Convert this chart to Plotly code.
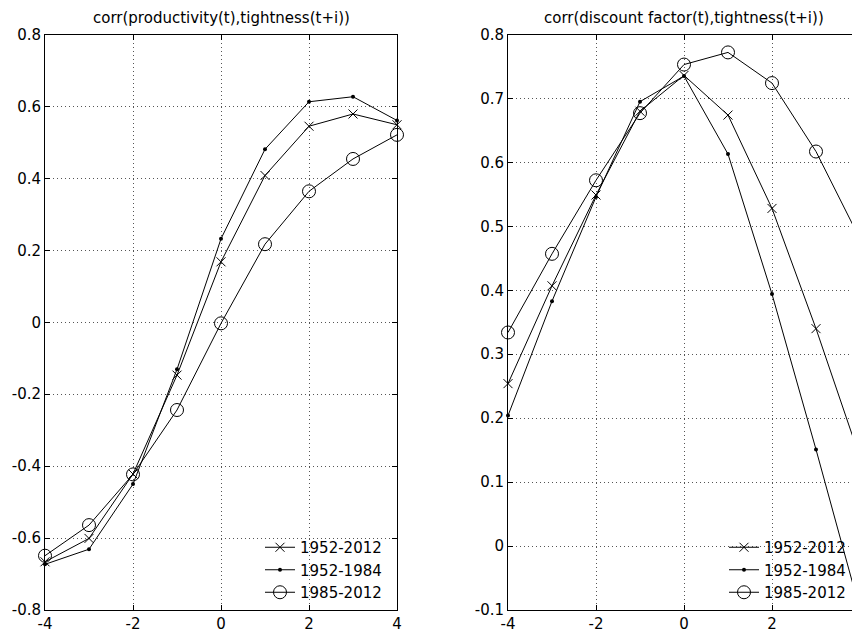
import plotly.graph_objects as go

lags = [-4, -3, -2, -1, 0, 1, 2, 3, 4]
series_names = ["1952-2012", "1952-1984", "1985-2012"]

# corr(productivity(t), tightness(t+i))
prod_1952_2012 = [-0.666, -0.601, -0.422, -0.147, 0.168, 0.408, 0.545, 0.579, 0.549]
prod_1952_1984 = [-0.673, -0.631, -0.450, -0.131, 0.232, 0.481, 0.613, 0.627, 0.561]
prod_1985_2012 = [-0.649, -0.564, -0.423, -0.244, -0.003, 0.217, 0.364, 0.454, 0.521]

# corr(discount factor(t), tightness(t+i))
disc_1952_2012 = [0.254, 0.407, 0.549, 0.680, 0.736, 0.674, 0.528, 0.340, 0.138]
disc_1952_1984 = [0.204, 0.383, 0.546, 0.695, 0.735, 0.613, 0.394, 0.151, -0.100]
disc_1985_2012 = [0.334, 0.457, 0.572, 0.677, 0.753, 0.772, 0.724, 0.617, 0.480]

titles = ["corr(productivity(t),tightness(t+i))", "corr(discount factor(t),tightness(t+i))"]

x_ticks = [-4, -2, 0, 2, 4]
x_ticktext = ["-4", "-2", "0", "2", "4"]
left_yticks = [-0.8, -0.6, -0.4, -0.2, 0, 0.2, 0.4, 0.6, 0.8]
left_yticktext = ["-0.8", "-0.6", "-0.4", "-0.2", "0", "0.2", "0.4", "0.6", "0.8"]
right_yticks = [-0.1, 0, 0.1, 0.2, 0.3, 0.4, 0.5, 0.6, 0.7, 0.8]
right_yticktext = ["-0.1", "0", "0.1", "0.2", "0.3", "0.4", "0.5", "0.6", "0.7", "0.8"]

W, H = 860, 635
OFF = 8  # page body margin offset
FONT = "DejaVu Sans"

marker_styles = [
    dict(symbol="x-thin-open", size=9, color="black", line=dict(color="black", width=1)),
    dict(symbol="circle", size=4, color="black"),
    dict(symbol="circle-open", size=13, color="black", line=dict(color="black", width=1)),
]

fig = go.Figure()

left_data = [prod_1952_2012, prod_1952_1984, prod_1985_2012]
right_data = [disc_1952_2012, disc_1952_1984, disc_1985_2012]

for name, ys, ms in zip(series_names, left_data, marker_styles):
    fig.add_trace(go.Scatter(
        x=lags, y=ys, name=name, mode="lines+markers",
        line=dict(color="black", width=1), marker=ms,
        xaxis="x", yaxis="y", legend="legend", cliponaxis=False,
    ))
for name, ys, ms in zip(series_names, right_data, marker_styles):
    fig.add_trace(go.Scatter(
        x=lags, y=ys, name=name, mode="lines+markers",
        line=dict(color="black", width=1), marker=ms,
        xaxis="x2", yaxis="y2", legend="legend2", cliponaxis=False,
    ))

ydom = [(H - (610 - OFF)) / H, (H - (34.5 - OFF)) / H]
common_axis = dict(
    showline=True, linecolor="black", linewidth=1, mirror="ticks",
    ticks="inside", ticklen=5, tickcolor="black", automargin=False,
    showgrid=True, gridcolor="#555555", griddash="1px,3px", gridwidth=1,
    zeroline=False, tickfont=dict(family=FONT, size=15, color="black"),
)

fig.update_layout(
    width=W, height=H,
    margin=dict(l=0, r=0, t=0, b=0),
    paper_bgcolor="white", plot_bgcolor="white",
    font=dict(family=FONT, size=15, color="black"),
    xaxis=dict(domain=[(45 - OFF) / W, (397 - OFF) / W], range=[-4, 4], tickvals=x_ticks,
               ticktext=x_ticktext, anchor="y", **common_axis),
    yaxis=dict(domain=ydom, range=[-0.8, 0.8], tickvals=left_yticks, ticktext=left_yticktext,
               anchor="x", **common_axis),
    xaxis2=dict(domain=[(508 - OFF) / W, (860 - OFF) / W], range=[-4, 4], tickvals=x_ticks,
                ticktext=x_ticktext, anchor="y2", **common_axis),
    yaxis2=dict(domain=ydom, range=[-0.1, 0.8], tickvals=right_yticks, ticktext=right_yticktext,
                anchor="x2", **common_axis),
    legend=dict(x=252 / W, y=(H - (570 - OFF)) / H, xanchor="left", yanchor="middle",
                bgcolor="rgba(0,0,0,0)", font=dict(family=FONT, size=15, color="black")),
    legend2=dict(x=716 / W, y=(H - (570 - OFF)) / H, xanchor="left", yanchor="middle",
                 bgcolor="rgba(0,0,0,0)", font=dict(family=FONT, size=15, color="black")),
    showlegend=True,
)

fig.add_annotation(text=titles[0], xref="paper", yref="paper", x=(221 - OFF) / W, y=ydom[1],
                   xanchor="center", yanchor="bottom", yshift=5, showarrow=False,
                   font=dict(family=FONT, size=15, color="black"))
fig.add_annotation(text=titles[1], xref="paper", yref="paper", x=(684 - OFF) / W, y=ydom[1],
                   xanchor="center", yanchor="bottom", yshift=5, showarrow=False,
                   font=dict(family=FONT, size=15, color="black"))

fig.write_html("out.html")
